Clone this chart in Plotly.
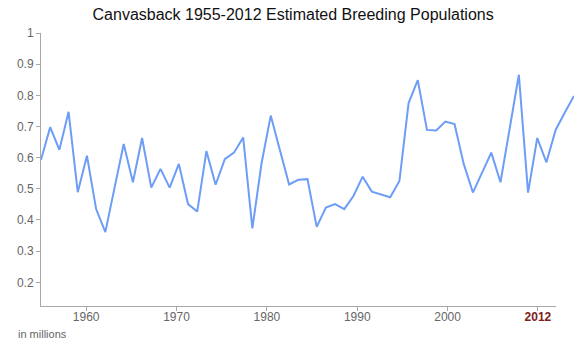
import plotly.graph_objects as go

years = list(range(1955, 2014))
population = [
    0.593, 0.698, 0.625, 0.747, 0.489, 0.606, 0.435, 0.361, 0.503, 0.644,
    0.521, 0.663, 0.504, 0.564, 0.504, 0.580, 0.451, 0.427, 0.621, 0.513,
    0.595, 0.616, 0.665, 0.373, 0.582, 0.735, 0.624, 0.514, 0.529, 0.531,
    0.378, 0.440, 0.451, 0.435, 0.477, 0.539, 0.491, 0.482, 0.473, 0.525,
    0.775, 0.849, 0.689, 0.687, 0.716, 0.708, 0.580, 0.488, 0.554, 0.616,
    0.521, 0.691, 0.866, 0.488, 0.663, 0.585, 0.689, 0.745, 0.798,
]
x_tick_vals = [1960, 1970, 1980, 1990, 2000, 2010]
x_tick_text = ["1960", "1970", "1980", "1990", "2000",
               "<b><span style='color:#7d2020'>2012</span></b>"]
y_tick_vals = [0.2, 0.3, 0.4, 0.5, 0.6, 0.7, 0.8, 0.9, 1.0]
y_tick_text = ["0.2", "0.3", "0.4", "0.5", "0.6", "0.7", "0.8", "0.9", "1"]

FONT = "Liberation Sans, Arial, Helvetica, sans-serif"
GREY = "#666666"
AXIS = "#a8a8a8"

fig = go.Figure()
fig.add_trace(go.Scatter(
    x=years, y=population, mode="lines",
    line=dict(color="#6d9df6", width=2),
    showlegend=False, hoverinfo="x+y",
))
# carrier trace for the labelled year axis
fig.add_trace(go.Scatter(
    x=[1955, 2012], y=[None, None], xaxis="x2", yaxis="y",
    mode="lines", showlegend=False, hoverinfo="skip",
))

fig.update_layout(
    width=577, height=344, autosize=False,
    margin=dict(l=41, r=3, t=33, b=38, pad=0),
    paper_bgcolor="white", plot_bgcolor="rgba(0,0,0,0)",
    font=dict(family=FONT, size=12, color=GREY),
    title=dict(
        text="Canvasback 1955-2012 Estimated Breeding Populations",
        font=dict(family=FONT, size=16, color="#111111"),
        xref="container", x=0.508, xanchor="center",
        yref="container", y=1 - 14.5 / 344, yanchor="middle",
    ),
    xaxis=dict(
        range=[1955, 2013], domain=[0, 1], visible=False,
        showgrid=False, zeroline=False, fixedrange=True,
    ),
    xaxis2=dict(
        anchor="y", domain=[0, 515 / 533], range=[1955, 2012],
        tickmode="array", tickvals=x_tick_vals, ticktext=x_tick_text,
        ticks="outside", ticklen=4, tickcolor=AXIS, tickwidth=1,
        ticklabelstandoff=-4,
        showline=True, linecolor=AXIS, linewidth=1,
        showgrid=False, zeroline=False,
        tickfont=dict(family=FONT, size=12, color=GREY),
    ),
    yaxis=dict(
        range=[0.124, 1.0],
        tickmode="array", tickvals=y_tick_vals, ticktext=y_tick_text,
        ticks="outside", ticklen=4, tickcolor=AXIS, tickwidth=1,
        showline=True, linecolor=AXIS, linewidth=1,
        showgrid=False, zeroline=False,
        tickfont=dict(family=FONT, size=12, color=GREY),
    ),
    annotations=[dict(
        text="in millions", xref="paper", yref="paper",
        x=-25 / 533, y=-28 / 273, xanchor="left", yanchor="middle",
        showarrow=False, font=dict(family=FONT, size=11, color=GREY),
    )],
)

fig.write_html("out.html")
